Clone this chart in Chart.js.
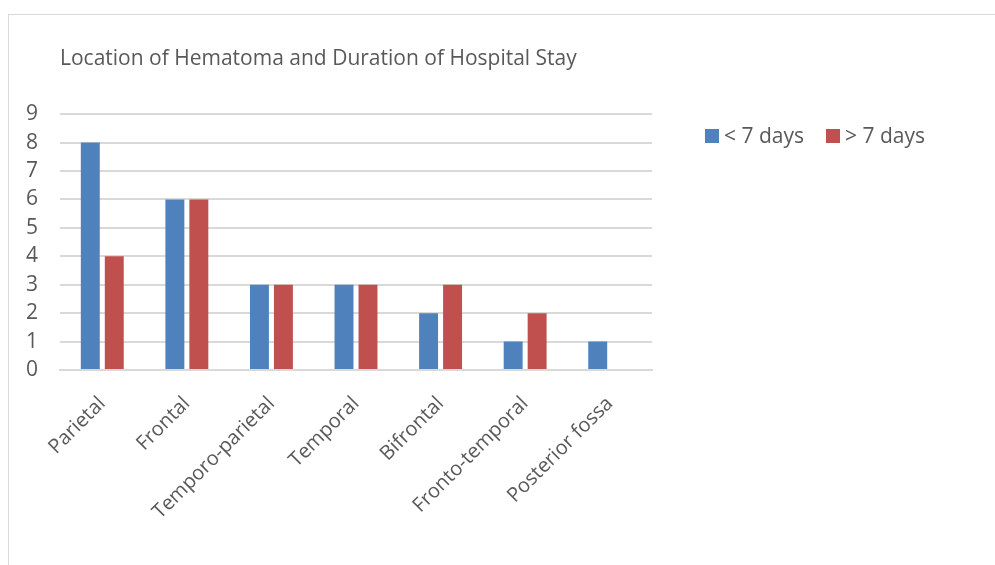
<!DOCTYPE html>
<html>
<head>
<meta charset="utf-8">
<script src="https://cdn.jsdelivr.net/npm/chart.js@4/dist/chart.umd.min.js"></script>
<style>
  html, body { margin: 0; padding: 0; background: #fff; }
  body { width: 995px; height: 565px; position: relative; overflow: hidden; font-family: "Open Sans", sans-serif; }
  #frame { position: absolute; left: 8px; top: 14px; width: 1000px; height: 600px; border: 1px solid #d9d9d9; }
  #wrap { position: absolute; left: 0; top: 0; width: 995px; height: 565px; }
  #legend { position: absolute; left: 705px; top: 121px; display: flex; color: #595959; font-size: 21px; line-height: 29px; }
  #legend .item { display: flex; align-items: center; margin-right: 22px; }
  #legend .box { width: 14px; height: 14px; margin-right: 5px; }
</style>
</head>
<body>
<div id="frame"></div>
<div id="wrap"><canvas id="chart"></canvas></div>
<div id="legend"></div>
<script>
const categories = ["Parietal", "Frontal", "Temporo-parietal", "Temporal", "Bifrontal", "Fronto-temporal", "Posterior fossa"];
const lessThan7 = [8, 6, 3, 3, 2, 1, 1];
const moreThan7 = [4, 6, 3, 3, 3, 2, null];
const seriesNames = ["< 7 days", "> 7 days"];
const seriesColors = ["#4f81bd", "#c0504d"];

const ctx = document.getElementById('chart').getContext('2d');
Chart.defaults.font.family = '"Open Sans", sans-serif';
Chart.defaults.color = '#595959';

new Chart(ctx, {
  type: 'bar',
  data: {
    labels: categories,
    datasets: [
      { label: seriesNames[0], data: lessThan7, backgroundColor: seriesColors[0] },
      { label: seriesNames[1], data: moreThan7, backgroundColor: seriesColors[1] }
    ]
  },
  options: {
    responsive: true,
    maintainAspectRatio: false,
    animation: false,
    layout: { padding: { left: 0, right: 343, top: 0, bottom: 0 } },
    datasets: { bar: { categoryPercentage: 0.567, barPercentage: 0.79 } },
    scales: {
      x: {
        grid: { display: false, drawTicks: false },
        border: { color: '#d9d9d9', width: 2 },
        ticks: { minRotation: 45, maxRotation: 45, padding: 22, font: { size: 20 }, color: '#595959' },
        afterFit: function(scale) { scale.height = 195; }
      },
      y: {
        min: 0,
        max: 9,
        grid: { color: '#d9d9d9', lineWidth: 2, drawTicks: false },
        border: { display: false },
        ticks: { stepSize: 1, padding: 22, font: { size: 21 }, color: '#595959' },
        afterFit: function(scale) { scale.width = 60; }
      }
    },
    plugins: {
      legend: { display: false },
      tooltip: { enabled: false },
      title: {
        display: true,
        text: "Location of Hematoma and Duration of Hospital Stay",
        align: 'start',
        fullSize: false,
        color: '#595959',
        font: { size: 21, weight: 'normal' },
        padding: { top: 46, bottom: 43 }
      }
    }
  }
});

const legend = document.getElementById('legend');
seriesNames.forEach(function(name, i) {
  const item = document.createElement('div');
  item.className = 'item';
  const box = document.createElement('span');
  box.className = 'box';
  box.style.background = seriesColors[i];
  const txt = document.createElement('span');
  txt.textContent = name;
  item.appendChild(box);
  item.appendChild(txt);
  legend.appendChild(item);
});
</script>
</body>
</html>
